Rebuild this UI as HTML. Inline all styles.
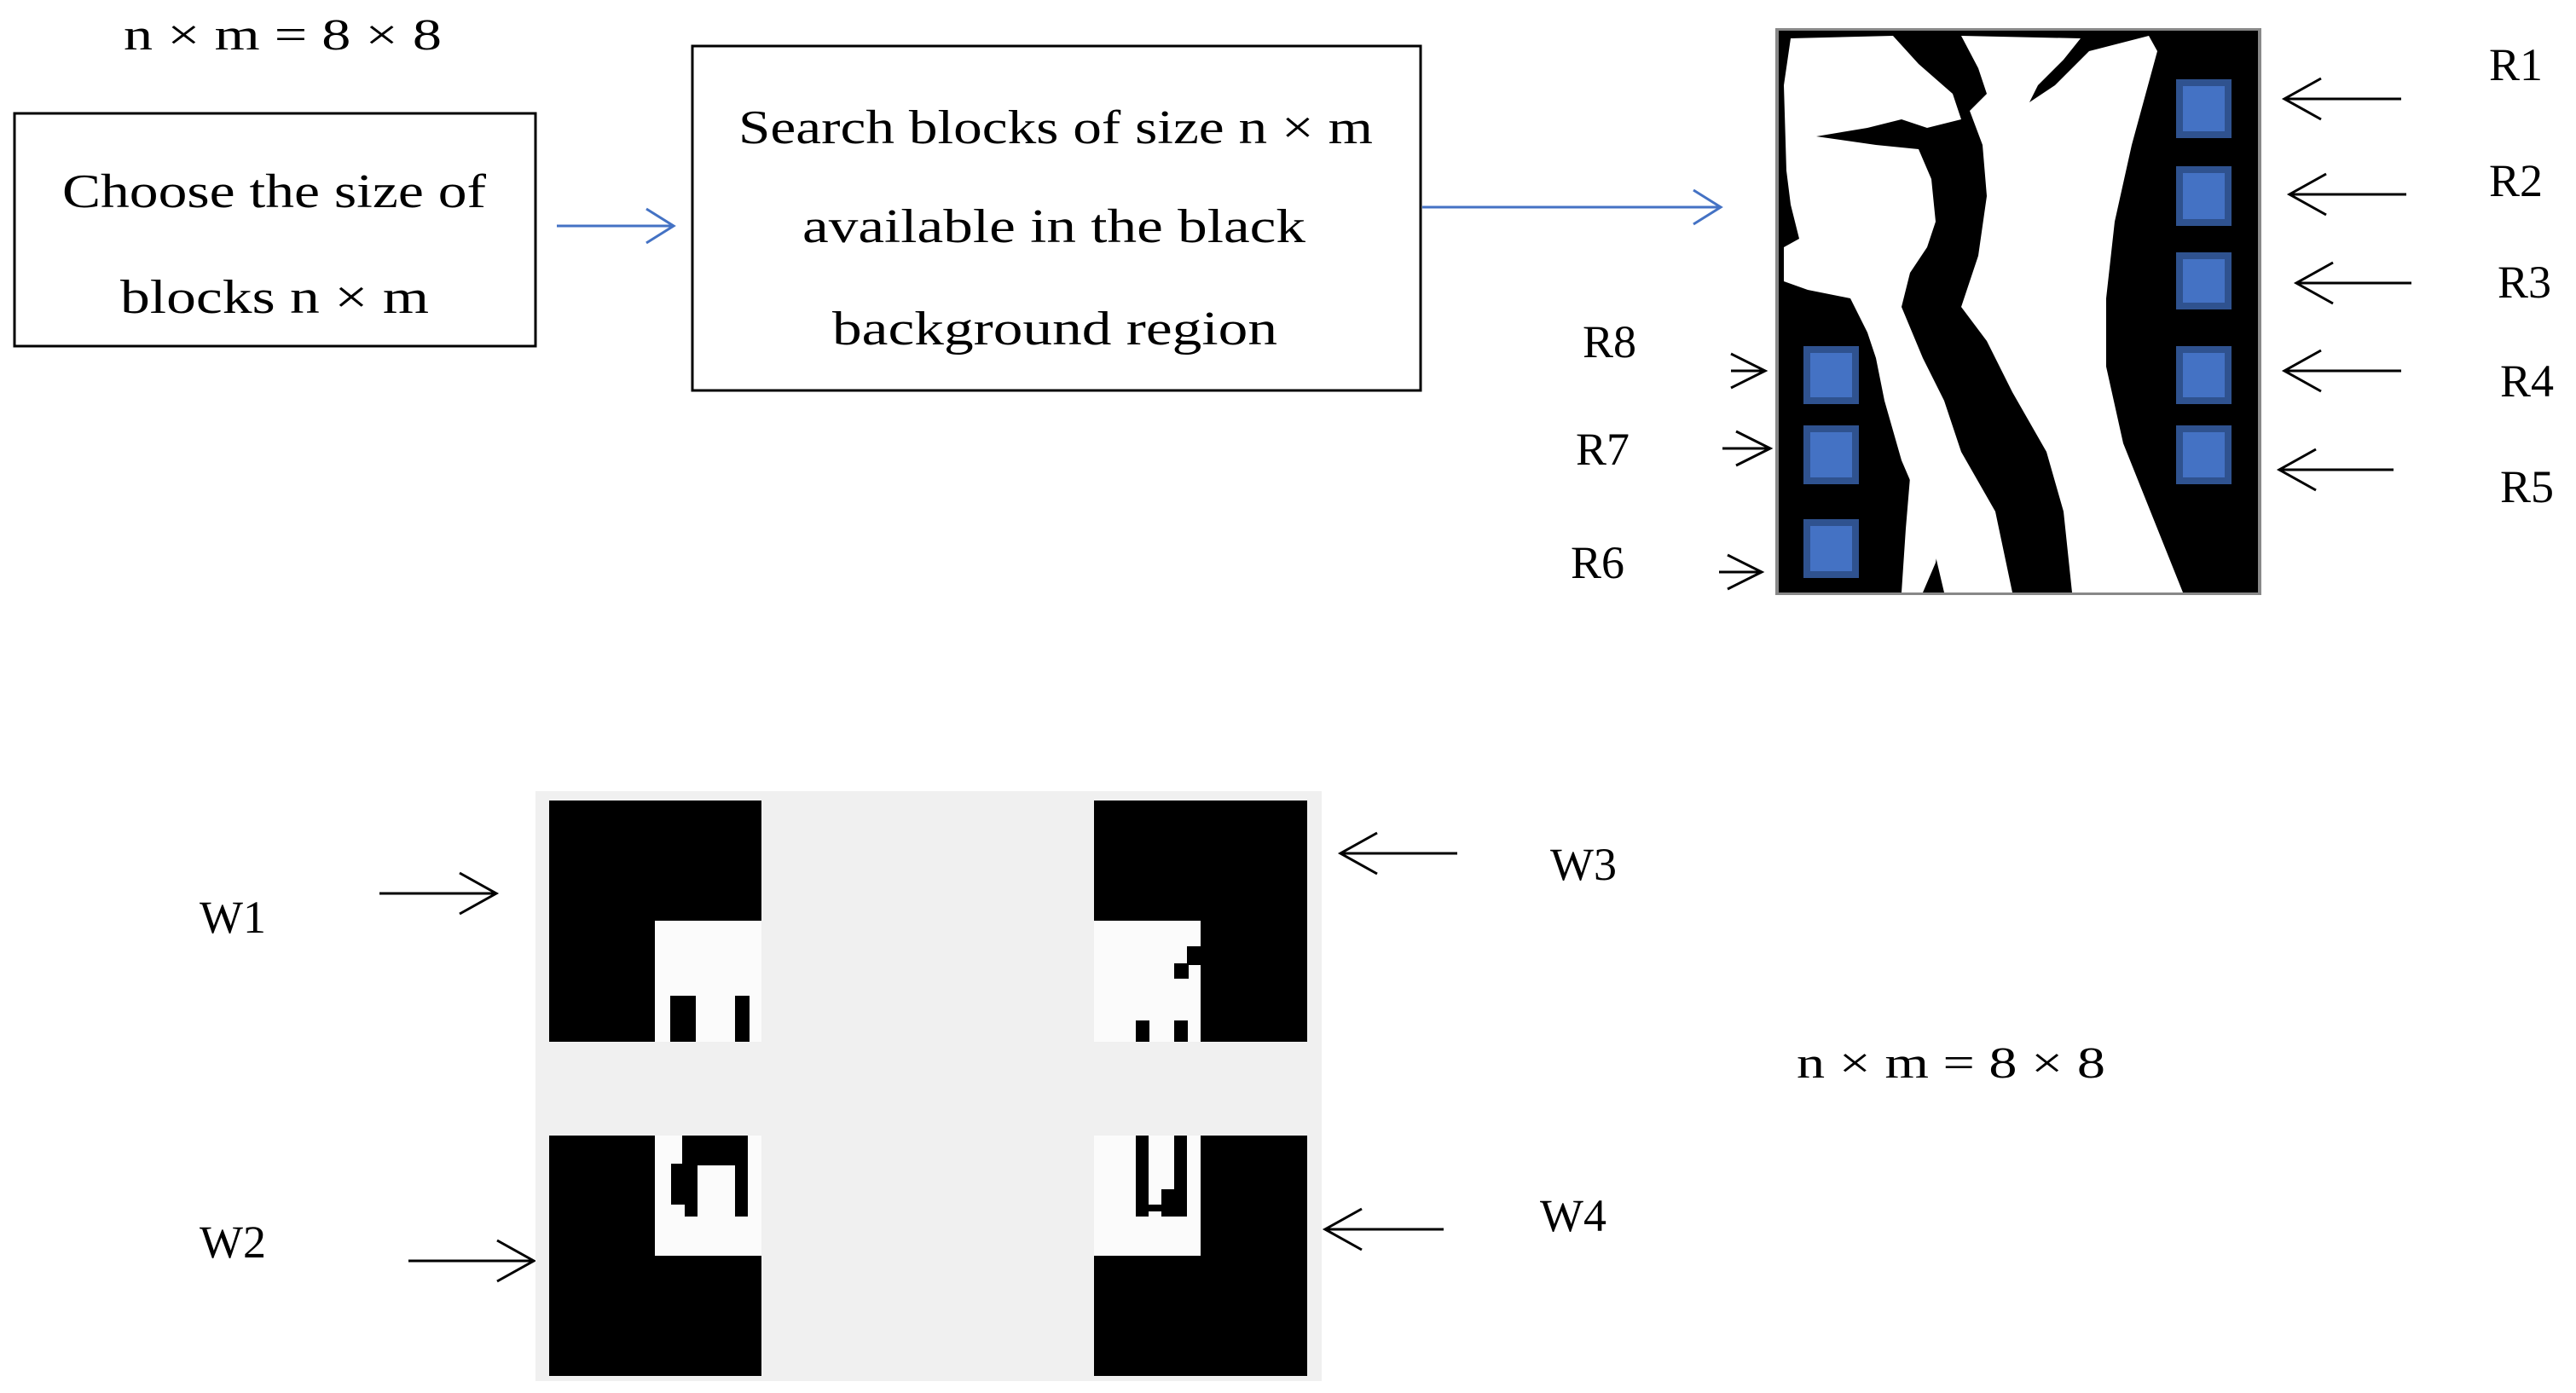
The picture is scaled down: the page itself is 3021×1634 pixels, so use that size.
<!DOCTYPE html>
<html><head><meta charset="utf-8"><style>
html,body{margin:0;padding:0;background:#fff;}
svg{display:block;}
text{font-family:"Liberation Serif",serif;fill:#000;}
</style></head><body>
<svg width="3021" height="1634" viewBox="0 0 3021 1634" xmlns="http://www.w3.org/2000/svg">
<!-- top labels -->
<text x="145" y="58" font-size="52" textLength="373" lengthAdjust="spacingAndGlyphs">n × m = 8 × 8</text>
<rect x="17" y="133" width="611" height="273" fill="none" stroke="#000" stroke-width="3"/>
<text x="73" y="243" font-size="56" textLength="497" lengthAdjust="spacingAndGlyphs">Choose the size of</text>
<text x="141" y="367" font-size="56" textLength="362" lengthAdjust="spacingAndGlyphs">blocks n × m</text>
<rect x="812" y="54" width="854" height="404" fill="none" stroke="#000" stroke-width="3"/>
<text x="866" y="168" font-size="56" textLength="744" lengthAdjust="spacingAndGlyphs">Search blocks of size n × m</text>
<text x="941" y="284" font-size="56" textLength="590" lengthAdjust="spacingAndGlyphs">available in the black</text>
<text x="976" y="404" font-size="56" textLength="522" lengthAdjust="spacingAndGlyphs">background region</text>
<!-- blue arrows -->
<g stroke="#4472c4" stroke-width="3" fill="none">
<line x1="653" y1="265" x2="790" y2="265"/><polyline points="758,245 790,265 758,285"/>
<line x1="1668" y1="243" x2="2018" y2="243"/><polyline points="1986,223 2018,243 1986,263"/>
</g>
<!-- medical image -->
<rect x="2082" y="33" width="570" height="665" fill="#888"/>
<rect x="2086" y="36" width="562" height="659" fill="#000"/>
<g fill="#fff">
<path d="M2100,45 L2220,42 L2250,75 L2290,110 L2300,140 L2260,150 L2230,140 L2190,150 L2130,160 L2200,170 L2250,175 L2265,210 L2270,260 L2260,290 L2240,320 L2230,360 L2255,420 L2280,470 L2300,530 L2340,600 L2360,695 L2280,695 L2260,610 L2230,540 L2210,470 L2200,420 L2190,390 L2170,350 L2120,340 L2092,330 L2092,290 L2110,280 L2100,240 L2095,200 L2092,100 Z"/>
<path d="M2300,42 L2320,80 L2330,110 L2310,130 L2325,170 L2330,230 L2320,300 L2300,360 L2330,400 L2360,460 L2400,530 L2420,600 L2430,695 L2560,695 L2530,620 L2490,520 L2470,430 L2470,350 L2480,260 L2500,170 L2530,60 L2520,42 L2450,60 L2430,80 L2410,100 L2380,120 L2390,100 L2420,70 L2440,45 Z"/>
<path d="M2240,480 L2270,540 L2280,600 L2270,660 L2255,695 L2230,695 L2235,620 L2240,560 Z"/>
</g>
<g fill="#2f528f">
<rect x="2552" y="93" width="65" height="69"/><rect x="2552" y="195" width="65" height="70"/><rect x="2552" y="296" width="65" height="67"/><rect x="2552" y="406" width="65" height="68"/><rect x="2552" y="499" width="65" height="69"/>
<rect x="2115" y="406" width="65" height="68"/><rect x="2115" y="499" width="65" height="69"/><rect x="2115" y="609" width="65" height="69"/>
</g>
<g fill="#4472c4">
<rect x="2560" y="101" width="49" height="53"/><rect x="2560" y="203" width="49" height="54"/><rect x="2560" y="304" width="49" height="51"/><rect x="2560" y="414" width="49" height="52"/><rect x="2560" y="507" width="49" height="53"/>
<rect x="2123" y="414" width="49" height="52"/><rect x="2123" y="507" width="49" height="53"/><rect x="2123" y="617" width="49" height="53"/>
</g>
<!-- black arrows -->
<g stroke="#000" stroke-width="3" fill="none">
<line x1="2816" y1="116" x2="2679" y2="116"/><polyline points="2722,92 2679,116 2722,140"/>
<line x1="2822" y1="228" x2="2685" y2="228"/><polyline points="2728,204 2685,228 2728,252"/>
<line x1="2828" y1="332" x2="2693" y2="332"/><polyline points="2736,308 2693,332 2736,356"/>
<line x1="2816" y1="435" x2="2679" y2="435"/><polyline points="2722,411 2679,435 2722,459"/>
<line x1="2807" y1="551" x2="2673" y2="551"/><polyline points="2716,527 2673,551 2716,575"/>
<line x1="2030" y1="435" x2="2070" y2="435"/><polyline points="2030,415 2070,435 2030,455"/>
<line x1="2020" y1="526" x2="2076" y2="526"/><polyline points="2036,506 2076,526 2036,546"/>
<line x1="2016" y1="671" x2="2066" y2="671"/><polyline points="2026,651 2066,671 2026,691"/>
<line x1="445" y1="1048" x2="582" y2="1048"/><polyline points="539,1024 582,1048 539,1072"/>
<line x1="479" y1="1479" x2="626" y2="1479"/><polyline points="583,1455 626,1479 583,1503"/>
<line x1="1709" y1="1001" x2="1572" y2="1001"/><polyline points="1615,977 1572,1001 1615,1025"/>
<line x1="1693" y1="1442" x2="1554" y2="1442"/><polyline points="1597,1418 1554,1442 1597,1466"/>
</g>
<g font-size="54">
<text x="2919" y="94">R1</text><text x="2919" y="230">R2</text><text x="2929" y="349">R3</text><text x="2932" y="465">R4</text><text x="2932" y="589">R5</text>
<text x="1856" y="419">R8</text><text x="1848" y="545">R7</text><text x="1842" y="678">R6</text>
<text x="234" y="1094">W1</text><text x="234" y="1475">W2</text><text x="1818" y="1032">W3</text><text x="1806" y="1444">W4</text>
</g>
<text x="2107" y="1264" font-size="52" textLength="362" lengthAdjust="spacingAndGlyphs">n × m = 8 × 8</text>
<!-- W panel -->
<rect x="628" y="928" width="922" height="692" fill="#f0f0f0"/>
<rect x="644" y="939" width="249" height="283" fill="#000"/>
<rect x="768" y="1080" width="125" height="142" fill="#fbfbfb"/>
<rect x="786" y="1168" width="30" height="54" fill="#000"/><rect x="862" y="1168" width="17" height="54" fill="#000"/>
<rect x="1283" y="939" width="250" height="283" fill="#000"/>
<rect x="1283" y="1080" width="125" height="142" fill="#fbfbfb"/>
<rect x="1392" y="1110" width="16" height="22" fill="#000"/><rect x="1377" y="1130" width="17" height="18" fill="#000"/><rect x="1332" y="1197" width="16" height="25" fill="#000"/><rect x="1377" y="1197" width="16" height="25" fill="#000"/>
<rect x="644" y="1332" width="249" height="282" fill="#000"/>
<rect x="768" y="1332" width="125" height="141" fill="#fbfbfb"/>
<path d="M800,1332 L877,1332 L877,1427 L862,1427 L862,1367 L818,1367 L818,1427 L803,1427 L803,1413 L787,1413 L787,1365 L800,1365 Z" fill="#000"/>
<rect x="1283" y="1332" width="250" height="282" fill="#000"/>
<rect x="1283" y="1332" width="125" height="141" fill="#fbfbfb"/>
<path d="M1332,1332 L1347,1332 L1347,1413 L1362,1413 L1362,1395 L1377,1395 L1377,1332 L1392,1332 L1392,1427 L1362,1427 L1362,1421 L1347,1421 L1347,1427 L1332,1427 Z" fill="#000"/>
</svg>
</body></html>
